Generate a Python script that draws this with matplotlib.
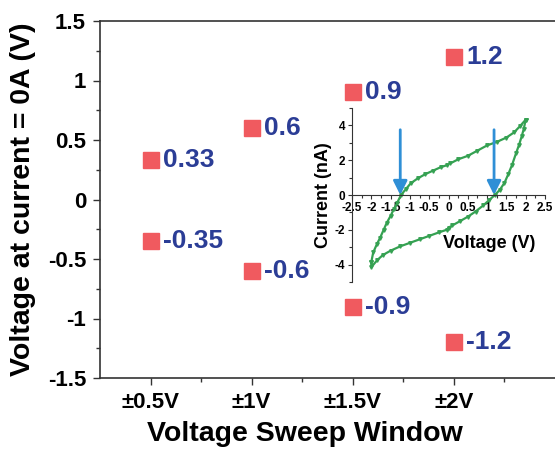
import matplotlib
matplotlib.use('Agg')
import matplotlib.pyplot as plt
import numpy as np

plt.rcParams['font.family'] = ['Liberation Sans', 'DejaVu Sans']
plt.rcParams['font.weight'] = 'bold'

# main chart data
windows = ['±0.5V', '±1V', '±1.5V', '±2V']
pos_vals = [0.33, 0.6, 0.9, 1.2]
neg_vals = [-0.35, -0.6, -0.9, -1.2]
ytick_vals = [-1.5, -1, -0.5, 0, 0.5, 1, 1.5]
ytick_labels = ['-1.5', '-1', '-0.5', '0', '0.5', '1', '1.5']

# inset I-V loop, split at the small step near 0 V
up_v1 = [-2.0, -1.95, -1.85, -1.77, -1.68, -1.6, -1.5, -1.42, -1.33, -1.23, -1.1, -0.98, -0.8, -0.6, -0.4, -0.2, -0.03]
up_i1 = [-3.85, -3.3, -2.8, -2.45, -2.0, -1.6, -1.2, -0.83, -0.45, 0.0, 0.35, 0.67, 0.95, 1.2, 1.4, 1.6, 1.72]
up_v2 = [0.05, 0.25, 0.5, 0.75, 1.0, 1.25, 1.5, 1.7, 1.85, 2.0]
up_i2 = [1.82, 2.05, 2.25, 2.55, 2.85, 3.05, 3.3, 3.6, 3.95, 4.33]
dn_v1 = [2.0, 1.95, 1.9, 1.83, 1.75, 1.65, 1.55, 1.45, 1.33, 1.2, 1.05, 0.9, 0.7, 0.5, 0.3, 0.1, 0.0]
dn_i1 = [4.33, 3.8, 3.4, 2.9, 2.4, 1.75, 1.2, 0.7, 0.3, 0.0, -0.3, -0.6, -0.95, -1.25, -1.5, -1.75, -1.88]
dn_v2 = [-0.05, -0.25, -0.5, -0.75, -1.0, -1.25, -1.5, -1.7, -1.85, -2.0, -2.0]
dn_i2 = [-2.0, -2.15, -2.35, -2.55, -2.75, -2.95, -3.2, -3.45, -3.75, -4.15, -3.85]
arrow_x = [-1.25, 1.18]
in_xticks = [-2.5, -2, -1.5, -1, -0.5, 0, 0.5, 1, 1.5, 2, 2.5]
in_xlabels = ['-2.5', '-2', '-1.5', '-1', '-0.5', '0', '0.5', '1', '1.5', '2', '2.5']
in_yticks = [-4, -2, 0, 2, 4]
in_ylabels = ['-4', '-2', '0', '2', '4']

sq_color = '#f05a5f'
txt_color = '#2b3d96'
spine_c = '#333333'

fig = plt.figure(figsize=(5.55, 4.5), dpi=100)
ax = fig.add_axes([100/555, 72/450, 455/555, 357/450])

x = np.arange(1, len(windows) + 1)
ax.plot(x, pos_vals, 's', color=sq_color, markersize=12, linestyle='none')
ax.plot(x, neg_vals, 's', color=sq_color, markersize=12, linestyle='none')
for xi, v in zip(list(x) * 2, pos_vals + neg_vals):
    ax.annotate(str(v), (xi, v), xytext=(9, 0), textcoords='offset points',
                va='center', ha='left', fontsize=19, color=txt_color, fontweight='bold')

ax.set_xlim(0.5, 5.0)
ax.set_ylim(-1.5, 1.5)
ax.set_xticks(x)
ax.set_xticklabels(windows)
ax.set_xticks([1.5, 2.5, 3.5, 4.5], minor=True)
ax.set_yticks(ytick_vals)
ax.set_yticklabels(ytick_labels)
ax.set_yticks(np.arange(-1.25, 1.5, 0.5), minor=True)
ax.tick_params(which='major', direction='out', length=5, width=1, labelsize=16, pad=5, color=spine_c)
ax.tick_params(which='minor', direction='out', length=3, width=1, color=spine_c)
ax.spines['right'].set_visible(False)
for s in ['left', 'bottom', 'top']:
    ax.spines[s].set_color(spine_c)
    ax.spines[s].set_linewidth(1.2)

ax.set_ylabel('Voltage at current = 0A (V)', fontsize=20.5, fontweight='bold')
ax.yaxis.set_label_coords(-0.14, 0.5)
ax.set_xlabel('Voltage Sweep Window', fontsize=20.5, fontweight='bold')
ax.xaxis.set_label_coords(0.45, -0.12)

# inset
ins = fig.add_axes([352/555, (450-282)/450, 193/555, 174/450])
ins.patch.set_alpha(0)
gc = '#35a152'
for vv, ii in [(up_v1, up_i1), (up_v2, up_i2), (dn_v1, dn_i1), (dn_v2, dn_i2)]:
    ins.plot(vv, ii, color=gc, lw=1.6, marker='v', markersize=2.5)
for ax_x in arrow_x:
    ins.annotate('', xy=(ax_x, 0), xytext=(ax_x, 3.75),
                 arrowprops=dict(arrowstyle='-|>', color='#2f8fd6', lw=2, mutation_scale=21,
                                 shrinkA=0, shrinkB=0))
ins.set_xlim(-2.5, 2.5)
ins.set_ylim(-5, 5)
ins.spines['top'].set_visible(False)
ins.spines['right'].set_visible(False)
ins.spines['bottom'].set_position(('data', 0))
for s in ['left', 'bottom']:
    ins.spines[s].set_color(spine_c)
    ins.spines[s].set_linewidth(0.8)
ins.set_xticks(in_xticks)
ins.set_xticklabels(in_xlabels)
ins.set_xticks(np.arange(-2.25, 2.5, 0.5), minor=True)
ins.set_yticks(in_yticks)
ins.set_yticklabels(in_ylabels)
ins.set_yticks([-5, -3, -1, 1, 3, 5], minor=True)
ins.tick_params(which='major', direction='out', length=3, width=0.8, labelsize=8.5, pad=2, color=spine_c)
ins.tick_params(which='minor', direction='out', length=2, width=0.8, color=spine_c)
ins.set_ylabel('Current (nA)', fontsize=13, fontweight='bold', labelpad=2)
ins.text(1.05, -2.8, 'Voltage (V)', fontsize=13, fontweight='bold', ha='center', va='center')

fig.savefig('out.png', dpi=100)
